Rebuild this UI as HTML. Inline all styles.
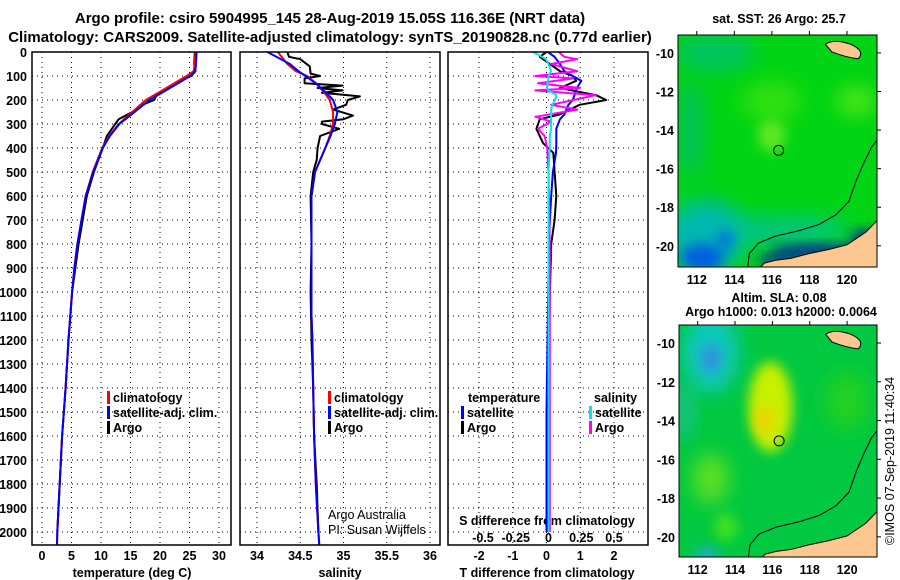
<!DOCTYPE html>
<html><head><meta charset="utf-8"><style>
body{margin:0;background:#fff;}
svg{display:block;font-family:"Liberation Sans",sans-serif;}
.t{font-weight:bold;font-size:12.5px;fill:#000;}
.ttl{font-weight:bold;font-size:15px;fill:#000;}
.grid{stroke:#000;stroke-width:1;stroke-dasharray:1,4;}
</style></head><body>
<svg id="chart" width="900" height="580" viewBox="0 0 900 580">
<defs>
<filter id="blur6" x="-50%" y="-50%" width="200%" height="200%"><feGaussianBlur stdDeviation="6"/></filter>
<filter id="blur10" x="-50%" y="-50%" width="200%" height="200%"><feGaussianBlur stdDeviation="10"/></filter>
<clipPath id="clipMap1"><rect x="678" y="35" width="199" height="232"/></clipPath>
<clipPath id="clipMap2"><rect x="679" y="325" width="198" height="232"/></clipPath>
</defs>
<text class="ttl" x="330" y="23" text-anchor="middle">Argo profile: csiro 5904995_145 28-Aug-2019 15.05S 116.36E (NRT data)</text>
<text class="ttl" x="330" y="42" text-anchor="middle">Climatology: CARS2009. Satellite-adjusted climatology: synTS_20190828.nc (0.77d earlier)</text>
<g id="panels"></g>
<g id="maps"></g>
<text class="t" x="894" y="545" transform="rotate(-90 894 545)" style="font-weight:normal;font-size:12.5px">©IMOS 07-Sep-2019 11:40:34</text>
</svg>
<script>
// ---- data ----
const depthTicks=[0,100,200,300,400,500,600,700,800,900,1000,1100,1200,1300,1400,1500,1600,1700,1800,1900,2000];
const tempTicks=[0,5,10,15,20,25,30];
const salTicks=[34,34.5,35,35.5,36];
const salTickLabels=["34","34.5","35","35.5","36"];
const tdiffTicks=[-2,-1,0,1,2];
const sdiffTicks=[-0.5,-0.25,0,0.25,0.5];
const sdiffTickLabels=["-0.5","-0.25","0","0.25","0.5"];

const climDepth=[0,50,80,100,130,170,200,250,300,350,400,500,600,700,800,900,1000,1100,1200,1400,1600,1800,2000,2055];
const climTemp=[26.0,25.9,25.7,24.5,22.4,19.7,17.6,15.3,13.0,11.4,10.2,8.6,7.4,6.7,6.0,5.5,5.1,4.8,4.5,4.0,3.4,3.0,2.6,2.55];
const satTemp=[26.2,26.1,26.0,25.1,23.1,20.3,18.2,15.7,13.1,11.5,10.3,8.7,7.4,6.7,6.0,5.5,5.1,4.8,4.5,4.0,3.4,3.0,2.6,2.55];
const argoDepth=[0,50,80,100,120,150,180,200,220,250,280,300,350,400,500,600,700,800,1000,1200,1400,1600,1800,2000];
const argoTemp=[25.9,25.8,26.0,25.3,23.3,21.2,19.4,19.0,17.0,15.3,13.0,12.4,11.0,10.3,8.8,7.6,6.9,6.2,5.1,4.5,4.0,3.4,3.0,2.6];

const climSal=[34.24,34.35,34.45,34.58,34.68,34.78,34.84,34.88,34.88,34.84,34.79,34.67,34.63,34.63,34.63,34.63,34.63,34.63,34.64,34.65,34.66,34.68,34.71,34.72];
const satSal=[34.12,34.38,34.48,34.56,34.68,34.8,34.88,34.93,34.9,34.85,34.79,34.67,34.63,34.63,34.63,34.63,34.63,34.63,34.64,34.65,34.66,34.68,34.71,34.72];
const argoSalDepth=[0,20,30,60,90,100,110,130,140,150,160,170,185,200,220,240,265,280,290,300,320,350,400,450,500,600,800,1000,1200,1400,1600,1800,2000];
const argoSal=[34.35,34.37,34.5,34.61,34.62,34.73,34.55,34.55,34.99,34.7,34.99,34.75,35.19,35.05,35.03,34.88,35.11,35.0,34.75,34.75,34.95,34.73,34.7,34.69,34.65,34.62,34.63,34.62,34.63,34.65,34.66,34.69,34.71];

const diffDepth=[0,20,50,80,100,120,150,180,200,220,260,280,320,380,420,500,600,700,800,1000,1500,2000];
const tdiffArgo=[0,-0.2,0.1,0.4,0.78,0.88,0.4,1.47,1.77,0.98,0.4,-0.2,-0.3,-0.1,0.2,0.24,0.29,0.24,0.14,0.1,0.05,0.05];
const tdiffSat=[0.04,0.24,0.4,0.53,0.78,1.03,0.9,0.83,0.78,0.65,0.53,0.4,0.29,0.29,0.28,0.19,0.14,0.1,0.07,0.05,0.0,0.0];
const sdiffDepth=[0,20,30,50,80,100,110,130,150,160,180,200,220,240,270,290,320,350,400,500,800,1200,2000];
const sdiffArgo=[0.08,0.12,0.22,0.02,0.22,-0.1,0.19,-0.08,0.24,-0.1,0.36,0.19,0.02,0.22,-0.1,0.02,-0.08,-0.03,-0.01,0.0,0.01,0.01,0.01];
const sdiffSat=[-0.12,-0.05,-0.02,0.0,0.02,0.0,0.0,-0.01,-0.01,0.0,0.06,0.05,0.03,0.02,0.02,0.02,0.02,0.01,0.01,0.0,0.0,0.0,0.0];

const lonTicks=[112,114,116,118,120];
const latTicks=[-10,-12,-14,-16,-18,-20];
const argoLon=116.36, argoLat=-15.05;

// ---- helpers ----
const NS="http://www.w3.org/2000/svg";
const P=document.getElementById('panels');
const M=document.getElementById('maps');
function mk(tag,attrs,parent){const e=document.createElementNS(NS,tag);for(const k in attrs)e.setAttribute(k,attrs[k]);(parent||P).appendChild(e);return e;}
const yTop=52, yBot=545, ppm=0.24;
const yD=d=>yTop+d*ppm;
function lin(d0,d1,r0,r1){return v=>r0+(v-d0)/(d1-d0)*(r1-r0);}
const panels=[
 {name:'temperature',x0:32,x1:231,sx:lin(0,30,42,219)},
 {name:'salinity',x0:240,x1:440,sx:lin(34,36,257,430)},
 {name:'difference',x0:448,x1:648,sx:lin(-2,2,479,614)}
];
const sdx=lin(-0.5,0.5,483,614);

panels.forEach(p=>{
 const g=mk('g',{});
 
 
 depthTicks.forEach(d=>{const l=mk('line',{x1:p.x0,x2:p.x1,y1:yD(d),y2:yD(d),class:'grid'},g);
  
  });
 p.g=g;
});
function vgrid(p,ticks,sx){ticks.forEach(v=>{const l=mk('line',{x1:sx(v),x2:sx(v),y1:yTop,y2:yBot,class:'grid'},p.g);
 
 });}
vgrid(panels[0],tempTicks,panels[0].sx);
vgrid(panels[1],salTicks,panels[1].sx);
vgrid(panels[2],tdiffTicks,panels[2].sx);

depthTicks.forEach(d=>{const t=mk('text',{x:27,y:yD(d)+5,class:'t','text-anchor':'end'});t.textContent=d;
 
 });
function xlabels(ticks,labels,sx,y,name){ticks.forEach((v,i)=>{const t=mk('text',{x:sx(v),y:y,class:'t','text-anchor':'middle'});t.textContent=labels?labels[i]:v;
 
 });}
xlabels(tempTicks,null,panels[0].sx,560,'temperature-tick-label');
xlabels(salTicks,salTickLabels,panels[1].sx,560,'salinity-tick-label');
xlabels(tdiffTicks,null,panels[2].sx,560,'tdiff-tick-label');
xlabels(sdiffTicks,sdiffTickLabels,sdx,542,'sdiff-tick-label');
function label(x,y,txt,name,anchor,extra){const t=mk('text',Object.assign({x:x,y:y,class:'t','text-anchor':anchor||'start'},extra||{}));t.textContent=txt;
 
 return t;}
label(132,577,'temperature (deg C)','x-axis-title-temperature','middle');
label(340,577,'salinity','x-axis-title-salinity','middle');
label(547,577,'T difference from climatology','x-axis-title-tdiff','middle');
label(547,525,'S difference from climatology','s-diff-title','middle');
label(328,519,'Argo Australia','credit-argo-australia','start',{style:'font-weight:normal'});
label(328,534,'PI: Susan Wijffels','credit-pi','start',{style:'font-weight:normal'});

function series(xs,ds,sx,color,name,w){
 const pts=xs.map((v,i)=>sx(v).toFixed(1)+','+yD(ds[i]).toFixed(1)).join(' ');
 const l=mk('polyline',{points:pts,fill:'none',stroke:color,'stroke-width':w||2,'stroke-linejoin':'round'});
 
 }
series(argoTemp,argoDepth,panels[0].sx,'#000','argo-temperature-line');
series(climTemp,climDepth,panels[0].sx,'#ff0000','climatology-temperature-line');
series(satTemp,climDepth,panels[0].sx,'#0000ff','satellite-temperature-line');
series(argoSal,argoSalDepth,panels[1].sx,'#000','argo-salinity-line');
series(climSal,climDepth,panels[1].sx,'#ff0000','climatology-salinity-line');
series(satSal,climDepth,panels[1].sx,'#0000ff','satellite-salinity-line');
series(tdiffArgo,diffDepth,panels[2].sx,'#000','argo-tdiff-line');
series(tdiffSat,diffDepth,panels[2].sx,'#0000ff','satellite-tdiff-line');
series(sdiffArgo,sdiffDepth,sdx,'#ff00ff','argo-sdiff-line');
series(sdiffSat,sdiffDepth,sdx,'#00e5ee','satellite-sdiff-line');

panels.forEach(p=>{const r=mk('rect',{x:p.x0,y:yTop,width:p.x1-p.x0,height:yBot-yTop,fill:'none',stroke:'#000','stroke-width':1.5});
 
 });

function legItem(x,y,color,txt,name){
 const b=mk('rect',{x:x,y:y-11,width:3,height:13,fill:color});
 
 
 label(x+6,y,txt,name);}
legItem(107,402,'#ff0000','climatology','legend-climatology');
legItem(107,417,'#0000ff','satellite-adj. clim.','legend-satellite-adj');
legItem(107,432,'#000','Argo','legend-argo');
legItem(328,402,'#ff0000','climatology','legend-sal-climatology');
legItem(328,417,'#0000ff','satellite-adj. clim.','legend-sal-satellite-adj');
legItem(328,432,'#000','Argo','legend-sal-argo');
label(468,402,'temperature','legend-temperature-heading');
legItem(461,417,'#0000ff','satellite','legend-tdiff-satellite');
legItem(461,432,'#000','Argo','legend-tdiff-argo');
label(594,402,'salinity','legend-salinity-heading');
legItem(589,417,'#00e5ee','satellite','legend-sdiff-satellite');
legItem(589,432,'#ff00ff','Argo','legend-sdiff-argo');

// ---- maps ----
function drawMap(x0,y0,w,h,lat0,lat1,clip,type){
 const lon0=111.0,lon1=121.6;
 const mx=lin(lon0,lon1,x0,x0+w), my=lin(lat0,lat1,y0,y0+h);
 const g=mk('g',{'clip-path':'url(#'+clip+')'},M);
 
 
 function blob(lon,lat,rx,ry,color,f,op){mk('ellipse',{cx:mx(lon),cy:my(lat),rx:rx,ry:ry,fill:color,filter:'url(#'+f+')',opacity:op||1},g);}
 if(type==='sst'){
  mk('rect',{x:x0,y:y0,width:w,height:h,fill:'#00d414'},g);
  blob(113,-10,40,18,'#00c078','blur10',0.8);
  blob(116,-12.5,30,20,'#30e010','blur10');
  blob(116,-14.3,14,16,'#60e820','blur6');
  blob(120.5,-12.5,20,14,'#50e818','blur10');
  blob(112.5,-19.5,40,36,'#00b8b0','blur10');
  blob(116.5,-19.2,70,14,'#00c0a0','blur10',0.8);
  blob(112.3,-20.6,22,14,'#0060e0','blur6');
  blob(113.5,-19.7,8,10,'#0070e0','blur6');
  blob(116.3,-20.8,20,6,'#0030a0','blur6');
  blob(118.5,-20.3,50,7,'#0020a0','blur6');
  blob(121,-19.6,15,8,'#0020a0','blur6');
  blob(111.7,-14,12,50,'#00c060','blur10');
 } else {
  mk('rect',{x:x0,y:y0,width:w,height:h,fill:'#00c840'},g);
  blob(112.7,-10.5,28,40,'#10c8c0','blur10');
  blob(112.7,-10.8,10,14,'#3090e0','blur6');
  blob(115.9,-13.3,22,45,'#c8f000','blur6');
  blob(115.6,-14,9,14,'#f0d000','blur6');
  blob(112.7,-17,18,25,'#60e020','blur10');
  blob(113.5,-19.5,12,14,'#40e020','blur6');
  blob(120,-13,22,30,'#20d020','blur10');
  blob(112.5,-21,12,10,'#20b0c0','blur6');
  blob(111.3,-13.5,8,30,'#20c0a0','blur10');
 }
 const land=[[115.3,-21.2],[115.6,-20.9],[116.2,-20.75],[117,-20.65],[118,-20.4],[119,-20.2],[120,-19.95],[121,-19.3],[121.7,-18.6],[121.7,-21.2]];
 mk('polygon',{points:land.map(p=>mx(p[0])+','+my(p[1])).join(' '),fill:'#fcc890',stroke:'#000','stroke-width':1},g);
 mk('path',{d:`M${mx(118.85)},${my(-9.55)} Q${mx(119.3)},${my(-9.25)} ${mx(120.2)},${my(-9.55)} Q${mx(121)},${my(-9.9)} ${mx(120.6)},${my(-10.3)} Q${mx(120)},${my(-10.25)} ${mx(119.2)},${my(-9.95)} Z`,fill:'#fcc890',stroke:'#000','stroke-width':1},g);
 const coast=[[114.7,-21.2],[114.8,-20.4],[115.3,-19.85],[116.2,-19.5],[117.5,-19.2],[118.5,-18.9],[119.4,-18.4],[120.1,-17.7],[120.5,-16.6],[120.9,-15.7],[121.3,-14.9],[121.7,-14.4]];
 mk('polyline',{points:coast.map(p=>mx(p[0])+','+my(p[1])).join(' '),fill:'none',stroke:'#000','stroke-width':1},g);
 const c=mk('circle',{cx:mx(argoLon),cy:my(argoLat),r:5,fill:'none',stroke:'#000','stroke-width':1},M);
 
 
 const fr=mk('rect',{x:x0,y:y0,width:w,height:h,fill:'none',stroke:'#000','stroke-width':1},M);
 
 
 lonTicks.forEach(v=>{mk('line',{x1:mx(v),x2:mx(v),y1:y0-4,y2:y0,stroke:'#000'},M);
  const t=mk('text',{x:mx(v),y:y0+h+17,class:'t','text-anchor':'middle'},M);t.textContent=v;
  
  });
 latTicks.forEach(v=>{mk('line',{x1:x0+w,x2:x0+w+4,y1:my(v),y2:my(v),stroke:'#000'},M);
  const t=mk('text',{x:x0-4,y:my(v)+5,class:'t','text-anchor':'end'},M);t.textContent=v;
  
  });
}
drawMap(678,35,199,232,-9.07,-21.1,'clipMap1','sst');
drawMap(679,325,198,232,-9.07,-21.04,'clipMap2','sla');
function mlabel(x,y,txt,name,anchor){const t=mk('text',{x:x,y:y,class:'t','text-anchor':anchor||'middle'},M);t.textContent=txt;
 
 }
mlabel(779,23,'sat. SST: 26 Argo: 25.7','sst-map-title');
mlabel(779,302,'Altim. SLA: 0.08','sla-map-title');
mlabel(781,316,'Argo h1000: 0.013 h2000: 0.0064','argo-height-title');
</script>
</body></html>
